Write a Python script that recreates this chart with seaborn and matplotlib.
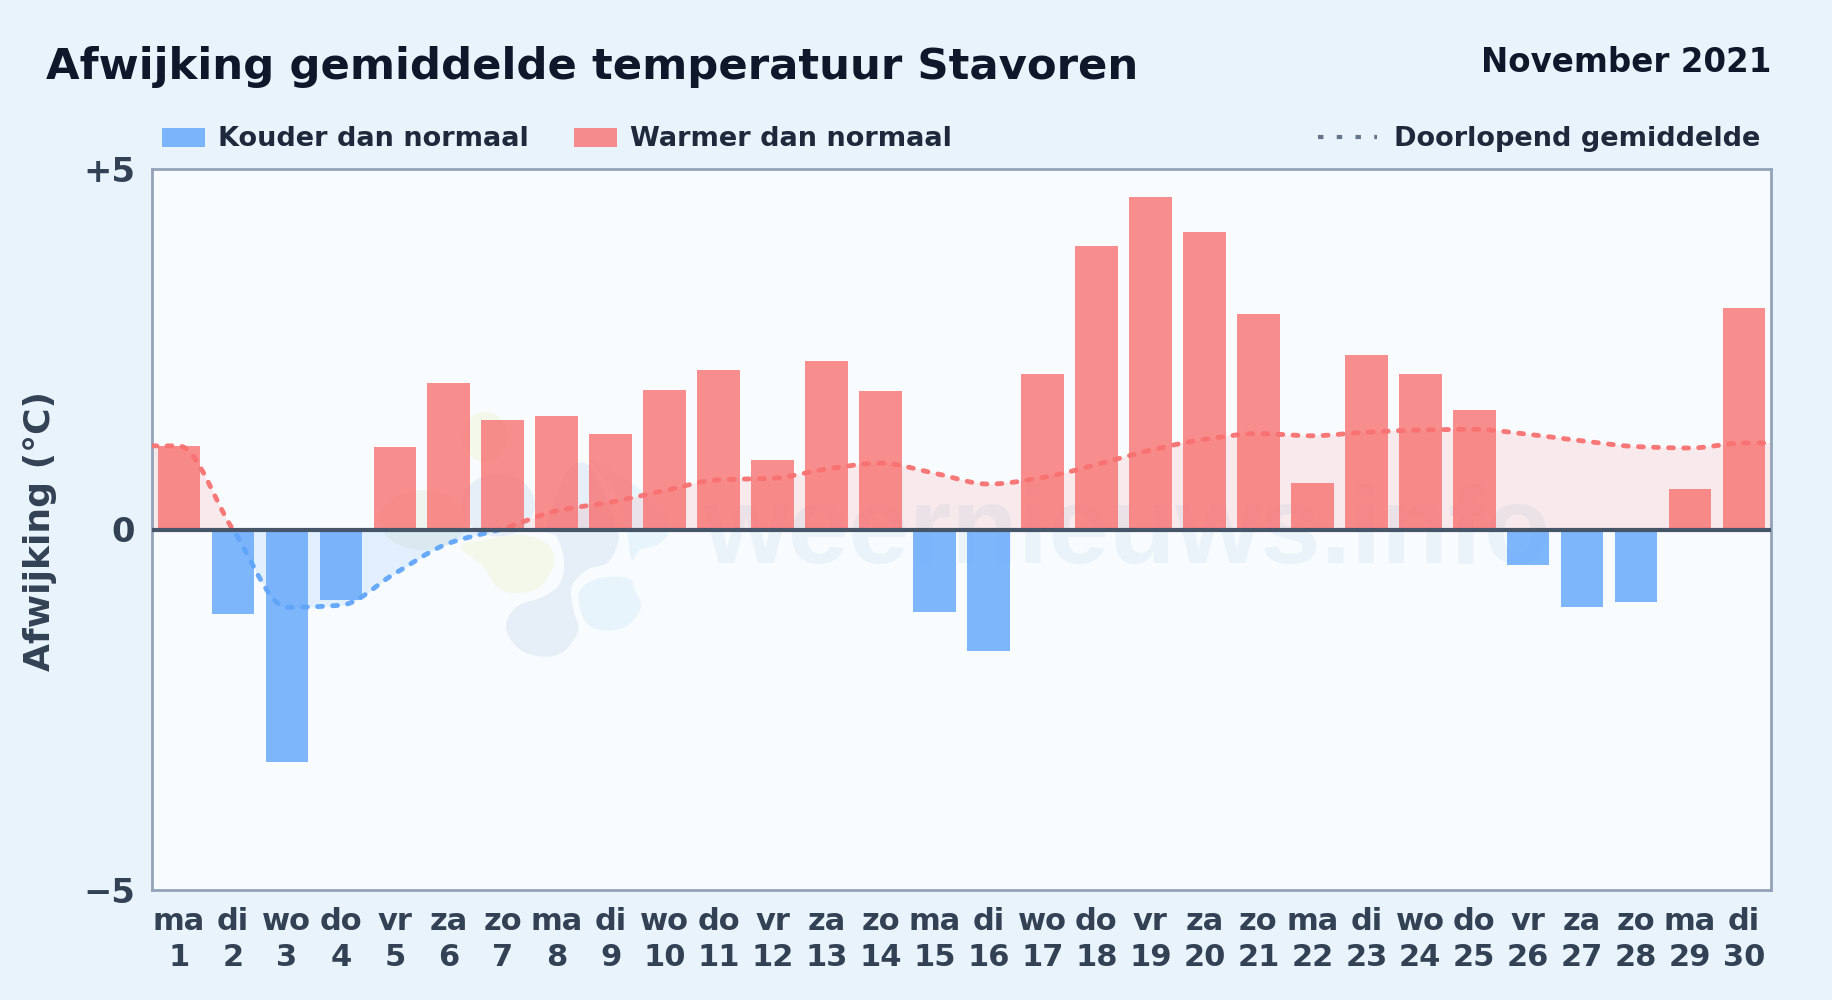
import numpy as np
import pandas as pd
import seaborn as sns
import matplotlib.pyplot as plt
from matplotlib.lines import Line2D
from matplotlib.patches import Patch, Ellipse, Rectangle, Polygon
from matplotlib.transforms import IdentityTransform

# values
weekdays = ['ma', 'di', 'wo', 'do', 'vr', 'za', 'zo'] * 4 + ['ma', 'di']
days = list(range(1, 31))
deviation = [1.16, -1.17, -3.22, -0.98, 1.14, 2.03, 1.52, 1.58, 1.32, 1.94,
             2.21, 0.96, 2.34, 1.92, -1.14, -1.68, 2.16, 3.93, 4.61, 4.12,
             2.99, 0.64, 2.42, 2.15, 1.66, -0.49, -1.08, -1.01, 0.56, 3.07]
running_mean = [1.16, 0.00, -1.08, -1.05, -0.61, -0.19, 0.01, 0.26, 0.38, 0.54,
                0.69, 0.71, 0.84, 0.92, 0.78, 0.63, 0.72, 0.90, 1.10, 1.25,
                1.33, 1.30, 1.35, 1.38, 1.39, 1.32, 1.23, 1.15, 1.13, 1.20]

COLD = '#60a5fa'
WARM = '#f87171'
BG = '#e8f3fc'
PANEL = '#f8fcff'
TICK = '#334155'


def smooth(xs, ys, steps=24):
    """monotone cubic through the points, like a d3 curveMonotoneX"""
    xs = np.asarray(xs, dtype=float)
    ys = np.asarray(ys, dtype=float)
    h = np.diff(xs)
    d = np.diff(ys) / h
    m = np.zeros_like(ys)
    m[0], m[-1] = d[0], d[-1]
    for i in range(1, len(ys) - 1):
        if d[i - 1] * d[i] > 0:
            m[i] = 2 * d[i - 1] * d[i] / (d[i - 1] + d[i])
    out_x, out_y = [], []
    for i in range(len(h)):
        t = np.linspace(0, 1, steps, endpoint=False)
        out_x.append(xs[i] + t * h[i])
        out_y.append((2*t**3 - 3*t**2 + 1) * ys[i] + (t**3 - 2*t**2 + t) * h[i] * m[i]
                     + (-2*t**3 + 3*t**2) * ys[i + 1] + (t**3 - t**2) * h[i] * m[i + 1])
    return np.r_[np.concatenate(out_x), xs[-1]], np.r_[np.concatenate(out_y), ys[-1]]


def blob(ax, pts, color):
    """closed catmull-rom shape for the logo, points in pixels from the top left"""
    p = np.asarray(pts, dtype=float) / 3 + [360, 380]
    out = []
    for i in range(len(p)):
        a, b, c, d = p[i - 1], p[i], p[(i + 1) % len(p)], p[(i + 2) % len(p)]
        for t in np.linspace(0, 1, 12, endpoint=False):
            out.append(0.5 * (2*b + (c - a)*t + (2*a - 5*b + 4*c - d)*t**2 + (3*b - a - 3*c + d)*t**3))
    out = np.array(out)
    out[:, 1] = 1000 - out[:, 1]
    ax.add_patch(Polygon(out, closed=True, color=color, lw=0, zorder=1, transform=IdentityTransform()))


sns.set_theme(style='white')
plt.rcParams['font.family'] = ['DejaVu Sans']
plt.rcParams['font.weight'] = 'bold'

fig = plt.figure(figsize=(18.32, 10), dpi=100, facecolor=BG)
ax = fig.add_axes([152 / 1832, 1 - 890 / 1000, (1771 - 152) / 1832, (890 - 169) / 1000])
ax.set_facecolor(PANEL)

df = pd.DataFrame({'day': [str(d) for d in days], 'dev': deviation})
df['kind'] = np.where(df['dev'] < 0, 'cold', 'warm')
sns.barplot(data=df, x='day', y='dev', hue='kind', dodge=False, width=0.79,
            palette={'cold': COLD, 'warm': WARM}, alpha=0.8, legend=False,
            saturation=1, linewidth=0, ax=ax, zorder=3)

ax.set_xlim(-0.5, 29.5)
ax.set_ylim(-5, 5)

# watermark
ax.text(17.57, -0.46, 'weernieuws.info', fontsize=78.5, fontweight='bold', family='Liberation Sans',
        color='#8fb8de', alpha=0.13, ha='center', va='baseline', zorder=1)
ax.add_patch(Ellipse((360 + 190 / 3, 1000 - (380 + 420 / 3)), 87, 60, color='#eff5ee', lw=0, zorder=1,
                     transform=IdentityTransform()))
ax.add_patch(Ellipse((360 + 375 / 3, 1000 - (380 + 170 / 3)), 45, 50, color='#f3f8ea', lw=0, zorder=1,
                     transform=IdentityTransform()))
blob(ax, [(800, 450), (770, 340), (690, 240), (800, 300), (900, 380), (930, 440), (900, 490), (840, 510), (815, 540)],
     '#e8f4fc')
blob(ax, [(655, 645), (700, 600), (770, 590), (815, 600), (822, 625), (843, 680), (805, 735), (745, 752), (680, 730)],
     '#e8f4fc')
blob(ax, [(300, 500), (370, 480), (480, 465), (560, 490), (582, 550), (540, 620), (470, 640), (410, 620), (370, 560)],
     '#f3f8ea')
blob(ax, [(438, 740), (470, 680), (550, 650), (600, 610), (612, 540), (590, 470), (560, 440), (620, 280), (690, 260),
          (770, 440), (770, 500), (740, 550), (680, 570), (635, 620), (640, 690), (655, 750), (610, 815), (545, 830),
          (475, 805)], '#e6eef7')
ax.add_patch(Ellipse((360 + 415 / 3, 1000 - (380 + 375 / 3)), 73, 63, color='#e6eef7', lw=0, zorder=1,
                     transform=IdentityTransform()))

# running mean, flat out to the panel edges
pos = np.arange(len(days))
line_x, line_y = smooth(np.r_[-0.5, pos, 29.5], np.r_[running_mean[0], running_mean, running_mean[-1]])
ax.fill_between(line_x, line_y, 0, where=line_y >= 0, interpolate=True, color=WARM, alpha=0.13, lw=0, zorder=2)
ax.fill_between(line_x, line_y, 0, where=line_y <= 0, interpolate=True, color=COLD, alpha=0.15, lw=0, zorder=2)
for col, rect in [(WARM, (-0.5, 0, 30, 5)), (COLD, (-0.5, -5, 30, 5))]:
    ln, = ax.plot(line_x, line_y, color=col, lw=3.5, ls=(0, (1.0, 2.1)), dash_capstyle='round', alpha=0.95, zorder=4)
    ln.set_clip_path(Rectangle(rect[:2], rect[2], rect[3], transform=ax.transData))

ax.axhline(0, color='#475569', lw=3, zorder=5)

for s in ax.spines.values():
    s.set_visible(True)
    s.set_color('#94a3b8')
    s.set_linewidth(2)

ax.set_yticks([-5, 0, 5], ['\u22125', '0', '+5'])
ax.set_xticks(pos, [f'{w}\n{d}' for w, d in zip(weekdays, days)], linespacing=1.3)
ax.tick_params(axis='y', length=0, pad=12, labelsize=24.3, labelcolor=TICK)
ax.tick_params(axis='x', length=0, pad=12, labelsize=22, labelcolor=TICK)
ax.set_xlabel('')
ax.set_ylabel('Afwijking (\u00b0C)', fontsize=26, color=TICK, fontweight='bold')
ax.yaxis.set_label_coords(40 / 1832, 0.469, transform=fig.transFigure)
ax.yaxis.label.set_verticalalignment('center')

fig.text(46 / 1832, 1 - 67 / 1000, 'Afwijking gemiddelde temperatuur Stavoren', fontsize=31.2,
         fontweight='bold', color='#0f172a', va='center', ha='left')
fig.text(1771 / 1832, 1 - 62 / 1000, 'November 2021', fontsize=23.45, fontweight='bold',
         color='#0f172a', va='center', ha='right')

left = ax.legend(handles=[Patch(color=COLD, alpha=0.8, lw=0, label='Kouder dan normaal'),
                          Patch(color=WARM, alpha=0.8, lw=0, label='Warmer dan normaal')],
                 ncol=2, frameon=False, loc='center left', bbox_to_anchor=(162 / 1832, 1 - 139.5 / 1000),
                 bbox_transform=fig.transFigure, prop={'size': 19.5, 'weight': 'bold'},
                 labelcolor='#1e293b', handlelength=1.6, handleheight=0.7, columnspacing=1.66,
                 handletextpad=0.48, borderpad=0, borderaxespad=0)
ax.add_artist(left)
ax.legend(handles=[Line2D([], [], color='#64748b', lw=3, ls=(0, (1.3, 3.2)), label='Doorlopend gemiddelde')],
          frameon=False, loc='center right', bbox_to_anchor=(1760 / 1832, 1 - 139.5 / 1000),
          bbox_transform=fig.transFigure, prop={'size': 19.5, 'weight': 'bold'},
          labelcolor='#1e293b', handlelength=2.2, handletextpad=0.61, borderpad=0, borderaxespad=0)

fig.savefig('out.png', dpi=100, facecolor=BG)
